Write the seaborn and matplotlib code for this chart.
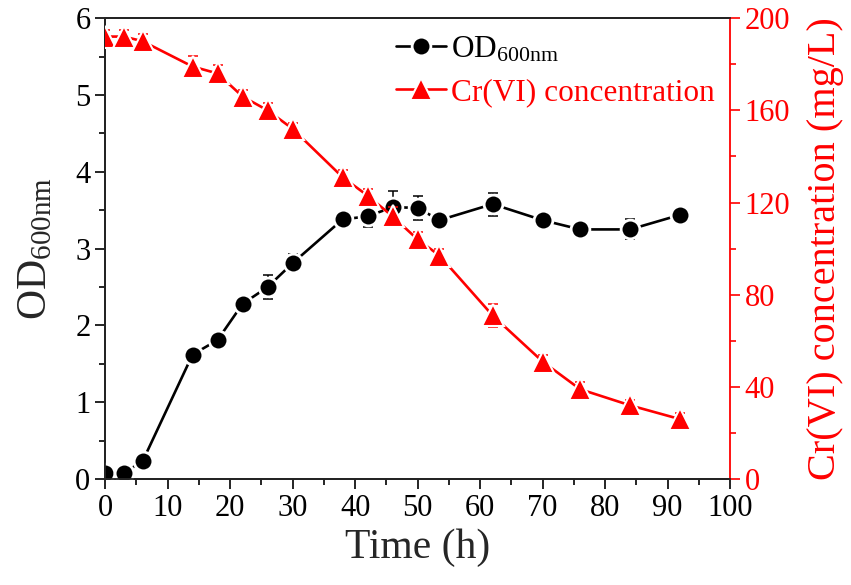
import pandas as pd
import matplotlib
matplotlib.use("Agg")
import matplotlib.pyplot as plt
import seaborn as sns
from matplotlib.lines import Line2D
from matplotlib.ticker import MultipleLocator

# Data
time_h = [0, 3, 6, 14, 18, 22, 26, 30, 38, 42, 46, 50, 53.5, 62, 70, 76, 84, 92]
od600 = [0.08, 0.08, 0.23, 1.62, 1.81, 2.28, 2.50, 2.81, 3.38, 3.42, 3.54, 3.53,
         3.37, 3.58, 3.37, 3.25, 3.25, 3.44]
od600_err = [0.02, 0.02, 0.03, 0.04, 0.04, 0.05, 0.16, 0.12, 0.06, 0.14, 0.21, 0.16,
             0.07, 0.15, 0.04, 0.07, 0.13, 0.05]
cr6 = [192, 192, 190, 179, 176, 166, 160, 152, 131, 123, 114, 104, 97, 71, 51, 39, 32, 26]
cr6_err = [3, 3, 3, 4.5, 3.5, 3, 3, 2.5, 3, 3, 4, 3, 3, 5, 3, 3, 2.5, 2.5]

df = pd.DataFrame({"time": time_h, "od": od600, "od_err": od600_err,
                   "cr": cr6, "cr_err": cr6_err})

SERIF = ["Liberation Serif", "DejaVu Serif"]


def main():
    sns.set_style("ticks")
    plt.rcParams["font.family"] = "serif"
    plt.rcParams["font.serif"] = SERIF
    plt.rcParams["mathtext.fontset"] = "custom"
    plt.rcParams["mathtext.rm"] = "Liberation Serif"
    plt.rcParams["mathtext.it"] = "Liberation Serif:italic"

    fig = plt.figure(figsize=(8.51, 5.85), dpi=100)
    ax = fig.add_axes([0.1234, 0.181, 0.7346, 0.788])
    ax2 = ax.twinx()

    # OD600 curve
    ax.errorbar(df["time"], df["od"], yerr=df["od_err"], fmt="none",
                ecolor="black", elinewidth=1.1, capsize=3.5, capthick=1.1, zorder=2)
    sns.lineplot(data=df, x="time", y="od", ax=ax, color="black", lw=1.9,
                 marker="o", markersize=13.5, markerfacecolor="black",
                 markeredgecolor="white", markeredgewidth=2, zorder=3)

    # Cr(VI) curve
    ax2.errorbar(df["time"], df["cr"], yerr=df["cr_err"], fmt="none",
                 ecolor="red", elinewidth=1.1, capsize=3.5, capthick=1.1, zorder=2)
    sns.lineplot(data=df, x="time", y="cr", ax=ax2, color="red", lw=1.9,
                 marker="^", markersize=15.5, markerfacecolor="red",
                 markeredgecolor="white", markeredgewidth=1.5, zorder=3)

    # axes limits & ticks
    ax.set_xlim(0, 100)
    ax.set_ylim(0, 6)
    ax2.set_ylim(0, 200)
    ax.xaxis.set_major_locator(MultipleLocator(10))
    ax.xaxis.set_minor_locator(MultipleLocator(5))
    ax.yaxis.set_major_locator(MultipleLocator(1))
    ax.yaxis.set_minor_locator(MultipleLocator(0.5))
    ax2.yaxis.set_major_locator(MultipleLocator(40))
    ax2.yaxis.set_minor_locator(MultipleLocator(20))

    ax.tick_params(axis="both", which="major", direction="out", length=7,
                   width=1.2, labelsize=22, colors="black")
    ax.tick_params(axis="both", which="minor", direction="out", length=4.5,
                   width=1.2, colors="black")
    ax.tick_params(axis="x", pad=4)
    ax2.tick_params(axis="y", which="major", direction="out", length=7, width=1.2,
                    labelsize=22, colors="red")
    ax2.tick_params(axis="y", which="minor", direction="out", length=4.5,
                    width=1.2, colors="red")
    for lab in ax.get_xticklabels() + ax.get_yticklabels() + ax2.get_yticklabels():
        lab.set_fontfamily(SERIF)

    for side in ["left", "bottom", "top"]:
        ax.spines[side].set_linewidth(1.3)
        ax.spines[side].set_color("black")
    ax.spines["right"].set_visible(False)
    ax2.spines["right"].set_color("red")
    for side in ["left", "bottom", "top", "right"]:
        ax2.spines[side].set_linewidth(1.3)

    ax.set_xlabel("Time (h)", fontsize=30, labelpad=4)
    ax.set_ylabel(r"OD$_{\mathrm{600nm}}$", fontsize=30, labelpad=14)
    ax2.set_ylabel("Cr(VI) concentration (mg/L)", fontsize=29, color="red",
                   labelpad=12)

    # legend
    handles = [
        Line2D([], [], color="black", lw=1.9, marker="o", markersize=13.5,
               markerfacecolor="black", markeredgecolor="white", markeredgewidth=2),
        Line2D([], [], color="red", lw=1.9, marker="^", markersize=15.5,
               markerfacecolor="red", markeredgecolor="white", markeredgewidth=1.5),
    ]
    labels = [r"OD$_{\mathrm{600nm}}$", "Cr(VI) concentration"]
    leg = ax2.legend(handles, labels, loc="upper right", bbox_to_anchor=(1.005, 1.005),
                     frameon=False, fontsize=22.5, handlelength=1.6,
                     handletextpad=0.15, labelspacing=0.45, borderaxespad=0.2)
    for txt, col in zip(leg.get_texts(), ["black", "red"]):
        txt.set_color(col)

    fig.savefig("out.png", dpi=100)


if __name__ == "__main__":
    main()
